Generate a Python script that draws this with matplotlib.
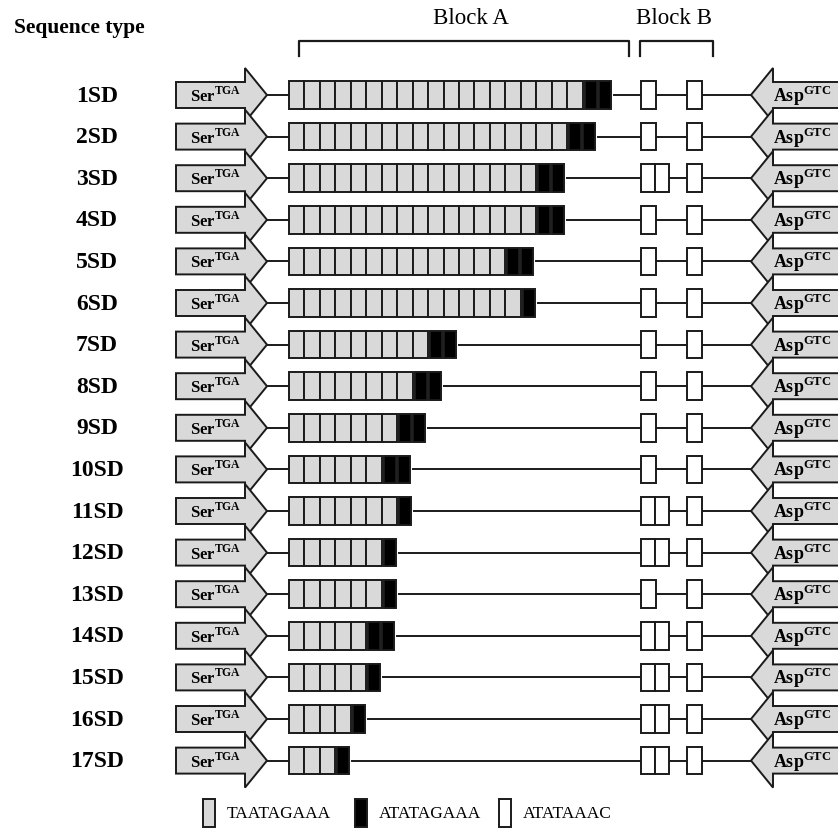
import matplotlib
matplotlib.use("Agg")
import matplotlib.pyplot as plt
from matplotlib.patches import Polygon, Rectangle

plt.rcParams["font.family"] = ["Liberation Serif", "DejaVu Serif"]
plt.rcParams["mathtext.fontset"] = "custom"
plt.rcParams["mathtext.rm"] = "Liberation Serif"
plt.rcParams["mathtext.bf"] = "Liberation Serif:bold"

# sequence types and repeat counts
SEQ_TYPES = [f"{i}SD" for i in range(1, 18)]
GREY_REPEATS = [19, 18, 16, 16, 14, 15, 9, 8, 7, 6, 7, 6, 6, 5, 5, 4, 3]
BLACK_REPEATS = [2, 2, 2, 2, 2, 1, 2, 2, 2, 2, 1, 1, 1, 2, 1, 1, 1]
BLOCK_B_FIRST = [1, 1, 2, 1, 1, 1, 1, 1, 1, 1, 2, 2, 1, 2, 2, 2, 2]
BLOCK_B_SECOND = [1] * 17
LEGEND_LABELS = ["TAATAGAAA", "ATATAGAAA", "ATATAAAC"]

GREY = "#d9d9d9"
EDGE = "#1a1a1a"
LW = 1.4

# layout, in pixel units
Y0, DY = 95, 41.6
HALF = 13.8
GREY_X0, GREY_W = 289, 15.45
BLACK_W, BLACK_GAP = 12, 2
B1_X, B1_W, B1_W2 = 641, 15, 14
B2_X, B2_W = 687, 15
SER_L, SER_BASE, SER_TIP = 176, 245, 267
ASP_TIP, ASP_BASE = 751, 773
HEAD = 27


def box(ax, x, y, w, color):
    ax.add_patch(Rectangle((x, y - HALF), w, 2 * HALF, facecolor=color,
                           edgecolor=EDGE, linewidth=LW, zorder=3))


def hline(ax, x0, x1, y):
    ax.plot([x0, x1], [y, y], color=EDGE, linewidth=LW, zorder=2)


def draw_row(ax, i):
    y = Y0 + i * DY
    ax.text(97, y + 1, SEQ_TYPES[i], ha="center", va="center",
            fontsize=17, fontweight="bold")

    ser = [(SER_L, y - 13), (SER_BASE, y - 13), (SER_BASE, y - HEAD),
           (SER_TIP, y), (SER_BASE, y + HEAD), (SER_BASE, y + 13), (SER_L, y + 13)]
    ax.add_patch(Polygon(ser, closed=True, facecolor=GREY, edgecolor=EDGE,
                         linewidth=LW, zorder=4 + i * 0.01))
    ax.text(190, y + 1, r"$\mathbf{Ser}^{\mathbf{TGA}}$", ha="left", va="center",
            fontsize=12, zorder=5)

    asp = [(900, y - 13), (ASP_BASE, y - 13), (ASP_BASE, y - HEAD),
           (ASP_TIP, y), (ASP_BASE, y + HEAD), (ASP_BASE, y + 13), (900, y + 13)]
    ax.add_patch(Polygon(asp, closed=True, facecolor=GREY, edgecolor=EDGE,
                         linewidth=LW, zorder=4 + i * 0.01))
    ax.text(773, y + 1, r"$\mathbf{Asp}^{\mathbf{GTC}}$", ha="left", va="center",
            fontsize=13, zorder=5)

    hline(ax, SER_TIP, GREY_X0, y)
    x = GREY_X0
    for _ in range(GREY_REPEATS[i]):
        box(ax, x, y, GREY_W, GREY)
        x += GREY_W
    for _ in range(BLACK_REPEATS[i]):
        x += BLACK_GAP
        box(ax, x, y, BLACK_W, "black")
        x += BLACK_W
    hline(ax, x + 3, B1_X, y)

    n1 = BLOCK_B_FIRST[i]
    w1 = B1_W if n1 == 1 else B1_W2
    for k in range(n1):
        box(ax, B1_X + k * w1, y, w1, "white")
    hline(ax, B1_X + n1 * w1, B2_X, y)
    for k in range(BLOCK_B_SECOND[i]):
        box(ax, B2_X + k * B2_W, y, B2_W, "white")
    hline(ax, B2_X + BLOCK_B_SECOND[i] * B2_W, ASP_TIP, y)


def main():
    fig = plt.figure(figsize=(8.38, 8.33), dpi=100)
    ax = fig.add_axes([0, 0, 1, 1])
    ax.set_xlim(0, 838)
    ax.set_ylim(833, 0)
    ax.axis("off")

    ax.text(14, 28, "Sequence type", ha="left", va="center",
            fontsize=15.5, fontweight="bold")
    ax.text(471, 18, "Block A", ha="center", va="center", fontsize=16.5)
    ax.text(674, 18, "Block B", ha="center", va="center", fontsize=16.5)
    ax.plot([299, 299, 629, 629], [56, 41, 41, 56], color=EDGE, linewidth=LW + 0.2)
    ax.plot([640, 640, 713, 713], [56, 41, 41, 56], color=EDGE, linewidth=LW + 0.2)

    for i in range(len(SEQ_TYPES)):
        draw_row(ax, i)

    legend_x = [203, 355, 499]
    for x, color, label in zip(legend_x, [GREY, "black", "white"], LEGEND_LABELS):
        ax.add_patch(Rectangle((x, 799), 12, 28, facecolor=color, edgecolor=EDGE,
                               linewidth=LW))
        ax.text(x + 24, 814, label, ha="left", va="center", fontsize=12.5)

    fig.savefig("out.png", dpi=100)
    plt.close(fig)


if __name__ == "__main__":
    main()
